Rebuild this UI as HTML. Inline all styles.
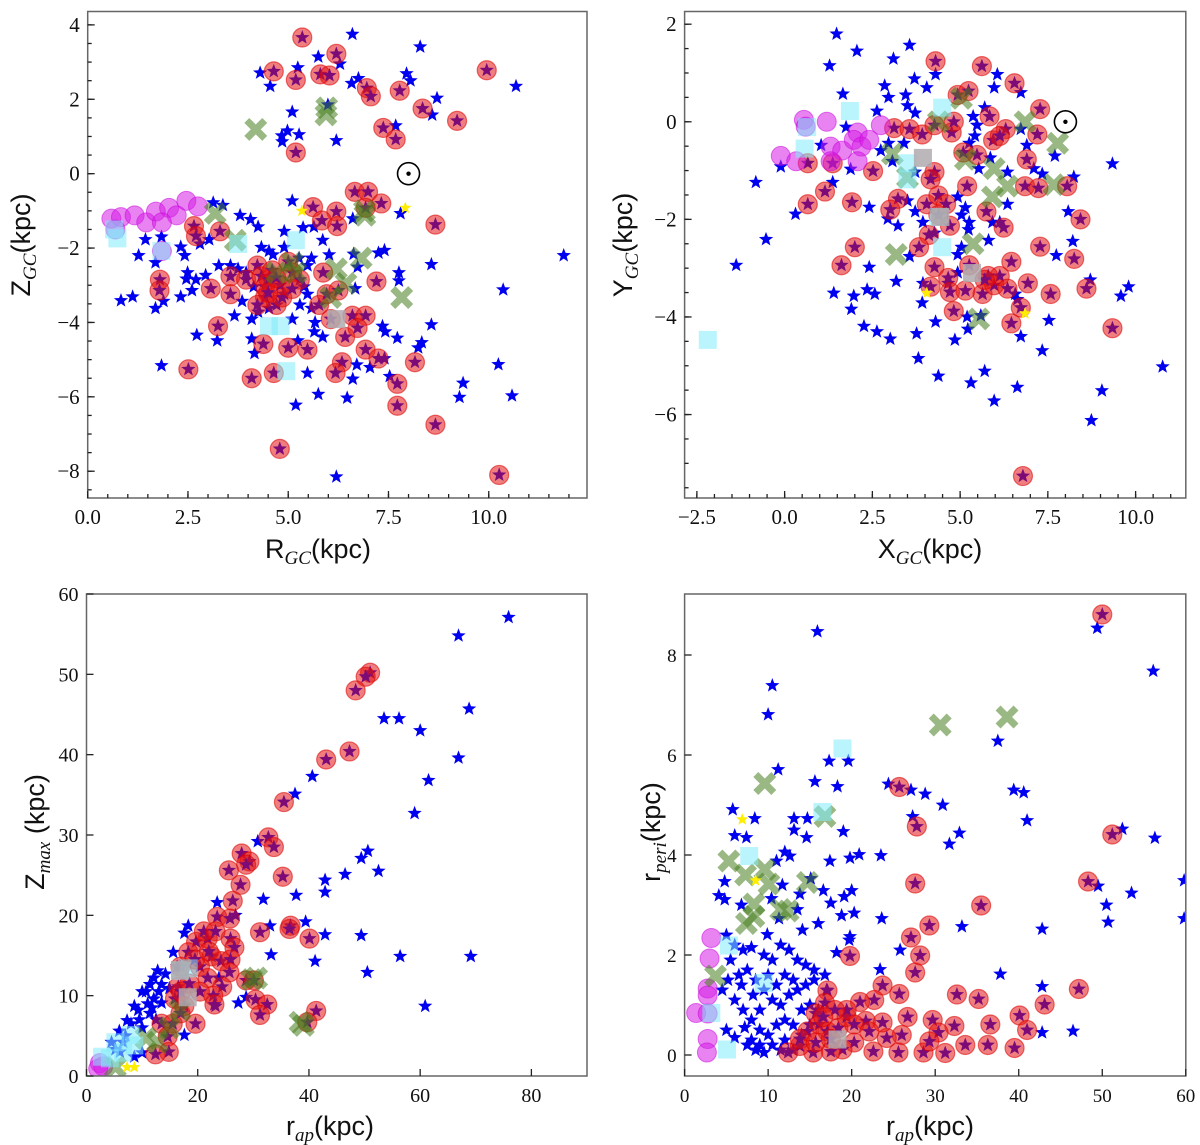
<!DOCTYPE html>
<html><head><meta charset="utf-8"><style>
html,body{margin:0;padding:0;background:#fff;}
svg{display:block;}
</style></head><body>
<svg id="fig" width="1200" height="1145" viewBox="0 0 1200 1145" xmlns="http://www.w3.org/2000/svg"></svg>
<script>
// ---------- Panel 1 data: R_GC vs Z_GC ----------
const p1Blue=[[6.6,3.75],[8.29,3.41],[5.75,3.14],[5.24,2.85],[4.3,2.71],[4.55,2.35],[6.29,2.95],[6.75,2.56],[6.58,2.43],[7.95,2.69],[8.05,2.5],[8.71,2.03],[10.68,2.35],[5.99,1.85],[5.1,1.66],[8.59,1.58],[4.84,1.02],[4.98,1.15],[5.27,1.05],[4.85,0.86],[6.2,0.89],[7.68,1.29],[5.1,-0.73],[3.13,-0.78],[3.37,-0.85],[7.8,-1.07],[6.61,-1.21],[3.8,-1.12],[4.06,-1.23],[4.25,-1.43],[5.37,-1.45],[5.64,-1.43],[4.9,-1.55],[3.03,-1.77],[2.8,-1.89],[2.32,-1.97],[1.44,-1.77],[1.84,-1.7],[1.27,-2.2],[1.69,-2.39],[2.42,-2.2],[2.49,-2.66],[2.46,-2.83],[2.7,-2.85],[2.6,-3.14],[2.32,-3.31],[2.94,-2.73],[0.83,-3.41],[1.12,-3.31],[1.69,-3.62],[1.89,-3.43],[3.66,-3.82],[2.72,-4.34],[3.23,-4.49],[4.09,-4.44],[4.16,-4.83],[4.09,-3.91],[4.25,-3.72],[1.84,-5.16],[5.86,-4.39],[5.65,-4.25],[5.24,-4.49],[5.48,-5.36],[5.75,-5.93],[5.19,-6.22],[6.47,-6.03],[6.61,-5.52],[6.71,-5.14],[7.04,-5.21],[7.35,-4.1],[7.42,-4.25],[7.72,-4.42],[8.57,-4.06],[8.24,-4.68],[8.33,-4.54],[7.53,-5.45],[9.36,-5.63],[9.27,-6.01],[10.24,-5.13],[10.58,-5.97],[10.36,-3.12],[11.87,-2.2],[8.57,-2.44],[7.76,-2.66],[7.76,-2.88],[7.4,-2.06],[7.25,-2.13],[6.73,-2.51],[6.63,-2.16],[6.02,-2.18],[5.86,-1.79],[6.67,-3.09],[6.2,-8.15],[7.4,-4.97],[4.33,-1.98],[4.52,-2.08],[4.62,-2.18],[4.9,-1.98],[5.27,-2.27],[5.48,-2.47],[5.58,-2.27],[3.75,-2.56],[3.95,-2.66],[3.56,-2.47],[3.27,-2.47],[4.14,-3.04],[5.39,-3.04],[5.48,-3.24],[5.29,-3.53],[5.58,-3.62],[3.85,-3.43],[5.1,-3.91],[5.67,-4.0],[4.52,-3.62],[4.9,-3.24]];
const p1Red=[[5.35,3.66],[6.2,3.22],[4.64,2.75],[5.19,2.52],[5.8,2.67],[6.03,2.64],[6.96,2.3],[7.06,2.08],[7.78,2.23],[9.95,2.78],[8.35,1.75],[9.21,1.42],[7.37,1.23],[7.68,0.92],[5.19,0.57],[6.66,-0.49],[6.99,-0.49],[7.32,-0.8],[6.93,-0.92],[5.62,-0.9],[6.2,-1.02],[5.84,-1.26],[6.22,-1.41],[8.67,-1.37],[2.65,-1.41],[2.7,-1.68],[3.3,-1.55],[1.8,-2.85],[1.79,-3.14],[3.07,-3.09],[3.56,-2.76],[3.56,-3.24],[3.95,-2.85],[4.23,-2.47],[4.33,-2.76],[4.42,-3.04],[4.52,-2.85],[4.42,-3.33],[4.23,-3.53],[4.71,-3.53],[4.85,-3.33],[5.1,-2.66],[5.0,-2.37],[5.29,-2.85],[5.87,-2.66],[5.77,-3.53],[5.96,-3.24],[6.25,-3.14],[6.06,-3.91],[6.6,-3.82],[6.93,-3.82],[6.42,-4.39],[6.73,-4.15],[7.2,-2.9],[3.25,-4.1],[4.38,-4.58],[5.0,-4.68],[5.48,-4.73],[6.93,-4.73],[7.25,-4.97],[6.34,-5.07],[6.18,-5.36],[4.64,-5.36],[4.09,-5.5],[2.51,-5.26],[8.16,-5.07],[7.72,-5.65],[7.72,-6.24],[8.67,-6.75],[4.79,-7.4],[10.26,-8.1],[4.6,-2.6],[4.8,-3.0],[4.5,-3.2],[5.1,-3.1],[4.7,-2.8]];
const p1Magenta=[[0.59,-1.21],[0.83,-1.17],[1.17,-1.12],[1.46,-1.31],[1.7,-1.02],[2.03,-0.92],[2.22,-1.12],[2.46,-0.73],[2.75,-0.88],[1.85,-1.31],[0.69,-1.5],[1.85,-2.08]];
const p1Green=[[4.19,1.19],[5.96,1.77],[5.94,1.58],[3.18,-1.07],[3.68,-1.79],[6.91,-1.12],[6.82,-2.27],[6.2,-2.56],[6.44,-2.95],[7.83,-3.33],[4.71,-2.66],[5.19,-2.66],[6.06,-3.33],[5.1,-2.4],[6.9,-1.0]];
const p1Cyan=[[0.66,-1.5],[0.74,-1.74],[1.84,-2.08],[3.75,-1.89],[5.19,-1.79],[4.52,-4.1],[4.81,-4.1],[4.95,-5.31]];
const p1Gray=[[6.2,-3.91]];
const p1Yellow=[[5.34,-1.0],[7.92,-0.92]];
const p1TickX=[0,2.5,5,7.5,10];
const p1TickXLabels=["0.0","2.5","5.0","7.5","10.0"];
const p1TickY=[-8,-6,-4,-2,0,2,4];
const p1TickYLabels=["−8","−6","−4","−2","0","2","4"];

// ---------- Panel 2 data: X_GC vs Y_GC ----------
const p2Blue=[[1.48,1.8],[2.06,1.45],[3.56,1.57],[1.28,1.15],[3.1,1.29],[4.3,0.97],[3.7,0.88],[2.85,0.74],[1.66,0.57],[2.96,0.5],[3.45,0.55],[4.05,0.7],[6.06,0.97],[5.97,0.7],[6.73,0.6],[2.63,0.22],[3.5,0.33],[3.72,0.18],[5.37,0.11],[1.75,-0.11],[1.04,-0.48],[-0.11,-0.92],[-0.82,-1.24],[0.31,-1.89],[-0.53,-2.41],[-1.38,-2.94],[1.37,-1.24],[1.88,-0.97],[2.41,-1.75],[2.94,-1.99],[3.23,-2.13],[2.41,-2.98],[1.4,-3.51],[1.97,-3.57],[2.35,-3.44],[2.57,-3.53],[1.9,-3.84],[2.26,-4.19],[2.63,-4.3],[3.01,-4.45],[3.18,-3.27],[3.56,-2.76],[3.92,-3.71],[3.76,-4.34],[3.81,-4.85],[4.3,-4.1],[4.38,-5.21],[4.85,-4.47],[5.22,-4.25],[5.31,-5.35],[5.7,-5.11],[5.97,-5.72],[6.63,-5.44],[6.73,-4.4],[7.34,-4.69],[7.53,-4.07],[7.74,-2.74],[8.21,-2.45],[8.08,-1.84],[8.24,-1.13],[9.34,-0.86],[8.71,-3.24],[9.58,-3.57],[9.8,-3.38],[9.04,-5.51],[8.74,-6.12],[10.77,-5.02],[7.7,-0.7],[6.9,-0.48],[6.73,-0.15],[7.1,-0.96],[7.34,-1.07],[5.53,-0.96],[5.81,-2.43],[5.04,-1.91],[5.26,-2.06],[5.24,-2.21],[5.04,-2.57],[4.93,-2.72],[6.63,-3.64],[6.57,-3.53],[5.42,-0.29],[5.26,-0.44],[5.86,-0.74],[3.07,-0.81],[2.74,-0.59],[2.96,-0.44],[3.4,-0.44],[3.72,-1.03],[3.5,-1.62],[3.72,-1.84],[3.94,-2.06],[4.93,-1.54],[5.15,-1.76],[6.13,-2.06],[6.35,-1.69],[4.93,-3.09],[4.66,-3.31],[5.59,-3.97],[5.2,-4.0],[4.27,-2.28],[3.94,-3.31],[5.92,-2.06],[5.7,0.29],[5.48,-0.07],[6.35,-1.03]];
const p2Red=[[4.3,1.24],[5.62,1.14],[6.55,0.79],[4.93,0.55],[5.24,0.63],[7.28,0.26],[5.84,0.11],[7.2,-0.26],[5.94,-0.38],[6.3,-0.15],[6.13,-0.29],[6.9,-0.77],[6.85,-1.32],[7.23,-1.36],[8.05,-1.32],[8.43,-2.0],[5.75,-1.84],[6.24,-2.17],[7.28,-2.56],[8.25,-2.81],[8.6,-3.42],[7.58,-3.53],[6.93,-3.31],[6.46,-2.87],[6.46,-4.13],[6.73,-3.81],[9.34,-4.23],[6.79,-7.26],[0.66,-1.69],[1.15,-1.43],[1.92,-1.65],[2.0,-2.57],[1.62,-2.94],[2.52,-1.01],[0.66,-0.85],[1.37,-0.85],[3.12,-0.13],[3.56,-0.15],[3.92,-0.26],[4.27,-0.07],[4.76,-0.22],[4.82,0],[5.09,-0.63],[5.48,-0.68],[4.27,-1.03],[4.16,-1.18],[5.2,-1.32],[3.23,-1.58],[3.01,-1.8],[4.05,-1.69],[4.38,-1.51],[4.6,-1.69],[4.38,-1.91],[4.71,-2.13],[4.11,-2.32],[3.83,-2.57],[4.27,-2.98],[4.66,-3.2],[4.16,-3.38],[4.71,-3.49],[5.15,-3.46],[5.64,-3.53],[5.97,-3.35],[6.13,-3.16],[5.8,-3.16],[5.26,-2.94],[4.82,-3.88],[5.7,-3.24],[6.35,-3.42]];
const p2Magenta=[[0.55,0.04],[1.2,0],[-0.11,-0.7],[0.33,-0.81],[1.31,-0.51],[1.64,-0.59],[2.08,-0.22],[1.97,-0.37],[2.19,-0.51],[2.74,-0.07],[2.41,-0.37],[2.08,-0.81],[1.31,-0.81],[0.6,-0.1]];
const p2Green=[[3.07,-0.66],[6.85,0],[7.78,-0.44],[5.97,-0.96],[6.35,-1.32],[7.67,-1.29],[5.92,-1.54],[5.37,-2.5],[3.18,-2.72],[5.53,-4.04],[5.15,-0.77],[5.04,0.48],[4.38,0],[3.5,-1.14]];
const p2Cyan=[[1.86,0.22],[0.64,-0.11],[0.57,-0.55],[3.5,-0.85],[3.5,-1.18],[4.49,0.29],[4.49,-2.57],[-2.19,-4.47],[4.38,-1.95]];
const p2Gray=[[4.44,-1.95],[5.34,-3.1],[3.94,-0.74]];
const p2Yellow=[[4.05,-3.51],[6.85,-3.93]];
const p2TickX=[-2.5,0,2.5,5,7.5,10];
const p2TickXLabels=["−2.5","0.0","2.5","5.0","7.5","10.0"];
const p2TickY=[-6,-4,-2,0,2];
const p2TickYLabels=["−6","−4","−2","0","2"];

// ---------- Panel 3 data: r_ap vs Z_max ----------
const p3Blue=[[75.9,57.1],[66.9,54.8],[68.8,45.7],[53.5,44.5],[56.2,44.5],[60.0,43.0],[66.9,39.6],[61.5,36.8],[59.0,32.7],[40.6,37.3],[37.5,35.1],[30.8,29.2],[50.6,28.0],[49.4,27.1],[52.5,25.5],[46.5,25.1],[42.9,24.4],[42.9,22.9],[37.7,22.5],[31.8,22.0],[39.4,19.2],[42.9,17.6],[49.4,17.5],[33.0,18.7],[33.2,15.1],[41.1,14.3],[56.4,14.9],[69.1,14.9],[50.5,12.9],[60.9,8.7],[27.3,9.1],[28.7,9.8],[23.5,21.6],[26.8,20.0],[18.3,18.7],[17.6,17.8],[15.6,15.4],[12.8,13.1],[12.1,12.2],[11.4,11.4],[10.0,10.5],[8.6,8.7],[7.3,6.9],[5.9,5.6],[4.5,4.2],[10.7,10.5],[12.1,9.6],[13.5,11.4],[9.3,8.2],[11.4,7.8],[8.0,6.5],[10.0,6.0],[13.5,9.1],[14.9,10.9],[14.2,12.7],[16.3,13.6],[17.6,5.1],[23.2,8.7],[23.8,12.2],[8.6,2.4],[10.0,2.9],[6.6,4.2],[5.2,3.3],[11.0,9.0],[9.5,7.0],[7.0,5.0],[12.5,7.0],[6.0,3.0],[13.0,10.5],[11.8,8.5]];
const p3Red=[[51,50.2],[50.2,49.7],[48.4,48.0],[47.3,40.4],[43.1,39.4],[35.5,34.1],[32.7,29.7],[33.7,28.5],[27.9,27.7],[29.3,26.7],[28.7,26.3],[25.6,25.6],[27.7,23.8],[35.3,24.8],[26.3,21.8],[23.5,19.8],[25.8,19.6],[36.7,18.7],[36.5,18.3],[31.2,17.9],[40.1,17.1],[25.9,17.1],[26.6,16.0],[19.7,16.7],[21.8,17.1],[21.1,18.0],[23.2,18.0],[22.5,14.9],[24.2,14.3],[25.9,14.5],[25.7,12.9],[18.3,15.4],[16.9,13.6],[20.4,13.6],[21.8,12.2],[24.4,11.1],[28.7,11.9],[30.1,11.9],[22.8,10.0],[23.0,8.9],[16.5,11.1],[15.9,9.6],[17.6,8.7],[20.4,10.5],[30.4,9.5],[32.5,8.9],[31.2,7.6],[41.3,8.1],[39.7,6.7],[19.6,6.5],[13.5,6.5],[14.6,4.9],[14.8,3.0],[12.4,2.7],[15.5,6.5],[16.9,7.8],[17.0,10.5],[18.5,11.5],[19.5,14.5],[22.0,15.5]];
const p3Magenta=[[2.4,1.6],[2.1,0.9],[3.0,1.2]];
const p3Green=[[30.6,12.2],[29.7,12.0],[38.4,6.7],[39.0,6.3],[16.8,8.2],[14.9,6.0],[10.7,4.7],[12.8,4.2],[5.2,1.1]];
const p3Cyan=[[16.9,13.1],[18.4,13.4],[2.8,2.4],[5.2,4.2],[7.9,5.1],[8.6,3.8],[6.6,2.9],[4.2,2.2]];
const p3Gray=[[18.2,9.8],[16.8,13.2]];
const p3Yellow=[[8.6,1.1],[7.3,1.1]];
const p3TickX=[0,20,40,60,80];
const p3TickXLabels=["0","20","40","60","80"];
const p3TickY=[0,10,20,30,40,50,60];
const p3TickYLabels=["0","10","20","30","40","50","60"];

// ---------- Panel 4 data: r_ap vs r_peri ----------
const p4Blue=[[15.9,8.47],[49.4,8.54],[56.1,7.68],[10.5,7.39],[10.0,6.81],[37.5,6.28],[11.2,5.71],[17.3,5.88],[19.6,5.88],[15.6,5.47],[18.3,5.37],[24.4,5.42],[27.1,5.3],[28.8,5.22],[39.4,5.3],[40.6,5.25],[30.9,5.0],[41.0,4.69],[27.3,4.77],[5.76,4.91],[8.4,4.73],[13.1,4.73],[14.7,4.73],[6.0,4.39],[7.4,4.35],[13.1,4.5],[14.6,4.35],[19.0,4.47],[32.9,4.44],[31.7,4.22],[52.4,4.52],[56.3,4.34],[12.0,4.06],[12.6,3.98],[11.0,3.88],[19.8,3.94],[20.9,4.01],[23.5,3.99],[17.4,3.88],[4.8,3.47],[4.1,3.19],[4.8,3.11],[11.7,3.4],[15.1,3.53],[13.8,3.22],[16.6,3.29],[20.0,3.29],[19.1,3.17],[17.5,3.04],[10.4,3.13],[49.5,3.38],[53.5,3.24],[50.5,3.0],[59.8,2.73],[50.7,2.66],[42.8,2.52],[33.2,2.57],[23.6,2.73],[20.3,2.84],[18.8,2.79],[16.0,2.63],[14.1,2.5],[11.3,2.73],[13.5,2.91],[6.8,3.0],[9.9,2.41],[19.8,2.37],[19.7,2.3],[25.8,2.1],[18.2,2.05],[37.8,1.62],[23.4,1.71],[42.8,1.37],[42.8,0.45],[46.5,0.48],[59.8,3.49],[5,2.4],[6,2.2],[7,2.1],[8,2.15],[9.5,2.0],[10.5,1.9],[11.5,2.2],[12.5,2.1],[13.5,1.9],[14.5,1.8],[15.5,1.7],[16.8,1.6],[5.5,1.9],[6.5,1.6],[7.5,1.7],[8.5,1.5],[9.5,1.3],[10.5,1.1],[11.5,1.0],[12.5,1.2],[13.5,1.3],[14.5,1.4],[15.5,1.5],[6,1.1],[7,0.9],[8,0.7],[9,0.5],[10,0.4],[11,0.6],[12,0.7],[13,0.6],[14,0.9],[15,1.0],[5,0.5],[6,0.35],[7.5,0.2],[8.5,0.1],[9.5,0.05],[10.5,0.2],[12,0.3],[13,0.1],[14,0.4],[4.5,1.3],[5.2,1.5],[6.8,1.4],[8.2,1.2],[9,0.9],[10,1.6],[11,1.4],[12,1.6],[13,1.5],[8,0.3],[9,0.2],[7.2,0.55],[11.5,0.1],[15,0.6],[16,0.9],[17,1.3]];
const p4Red=[[50,8.81],[51.2,4.41],[48.3,3.47],[35.5,2.99],[27.6,3.43],[27.8,4.57],[25.7,5.36],[29.3,2.59],[27.1,2.35],[28.2,1.99],[27.6,1.65],[19.8,1.98],[47.2,1.32],[43.1,1.01],[32.6,1.21],[35.2,1.12],[40.1,0.79],[41.0,0.5],[36.6,0.61],[32.3,0.58],[29.7,0.7],[30.4,0.45],[33.6,0.2],[36.3,0.2],[39.5,0.14],[31.2,0.04],[28.6,0.05],[29.3,0.27],[23.7,1.39],[25.7,1.22],[26.7,0.76],[26.0,0.4],[25.6,0.05],[22.6,0.07],[24.2,0.34],[23.7,0.65],[22.7,1.1],[21.0,1.06],[21.7,0.68],[20.3,0.25],[18.9,0.11],[17.5,0.07],[15.4,0.05],[13.8,0.18],[12.4,0.05],[17.1,1.29],[16.8,1.04],[15.7,0.83],[16.1,0.61],[17.1,0.47],[14.7,0.47],[13.8,0.32],[15.7,0.25],[17.5,0.32],[18.4,0.54],[19.4,0.76],[20.3,0.61],[19.4,0.9],[22.1,0.47],[18.0,0.9],[16.6,0.76]];
const p4Magenta=[[3.2,2.34],[2.99,1.93],[2.76,1.33],[2.76,1.19],[1.38,0.84],[2.76,0.83],[2.76,0.32],[2.67,0.05]];
const p4Green=[[30.6,6.6],[38.6,6.76],[9.6,5.43],[16.8,4.77],[5.3,3.88],[7.3,3.6],[9.6,3.71],[10.1,3.42],[14.7,3.45],[8.3,3.02],[8.3,2.77],[7.4,2.63],[11.5,2.91],[12.4,2.88],[3.7,1.58]];
const p4Cyan=[[18.9,6.13],[16.5,4.86],[7.74,3.98],[5.3,2.19],[9.45,1.44],[3.2,0.84],[5.07,0.11]];
const p4Gray=[[18.3,0.31]];
const p4Yellow=[[6.9,4.71],[8.5,3.49]];
const p4TickX=[0,10,20,30,40,50,60];
const p4TickXLabels=["0","10","20","30","40","50","60"];
const p4TickY=[0,2,4,6,8];
const p4TickYLabels=["0","2","4","6","8"];

// ---------- Rendering ----------
const NS="http://www.w3.org/2000/svg";
const svg=document.getElementById('fig');
function mk(tag,attrs,parent){const e=document.createElementNS(NS,tag);for(const k in attrs)e.setAttribute(k,attrs[k]);(parent||svg).appendChild(e);return e;}

const panels=[
 {key:'rgc-zgc',L:87.7,R:587,T:11.5,B:498,xmin:0,xmax:12.45,ymin:-8.72,ymax:4.36,xminor:0.5,yminor:0.5,
  data:{blue:p1Blue,red:p1Red,mag:p1Magenta,green:p1Green,cyan:p1Cyan,gray:p1Gray,yellow:p1Yellow},
  tx:p1TickX,txl:p1TickXLabels,ty:p1TickY,tyl:p1TickYLabels,sun:true,fs:21,
  xt:['R','GC','(kpc)'],xtX:318,xtY:558,yt:['Z','GC','(kpc)'],ytX:30,ytY:245},
 {key:'xgc-ygc',L:684.6,R:1185.8,T:11.5,B:498,xmin:-2.85,xmax:11.43,ymin:-7.71,ymax:2.26,xminor:0.5,yminor:0.5,
  data:{blue:p2Blue,red:p2Red,mag:p2Magenta,green:p2Green,cyan:p2Cyan,gray:p2Gray,yellow:p2Yellow},
  tx:p2TickX,txl:p2TickXLabels,ty:p2TickY,tyl:p2TickYLabels,sun:true,fs:21,
  xt:['X','GC','(kpc)'],xtX:930,xtY:558,yt:['Y','GC','(kpc)'],ytX:632,ytY:245},
 {key:'rap-zmax',L:86.5,R:587,T:594,B:1076,xmin:0,xmax:90,ymin:0,ymax:60,xminor:0,yminor:0,
  data:{blue:p3Blue,red:p3Red,mag:p3Magenta,green:p3Green,cyan:p3Cyan,gray:p3Gray,yellow:p3Yellow},
  tx:p3TickX,txl:p3TickXLabels,ty:p3TickY,tyl:p3TickYLabels,sun:false,fs:20,
  xt:['r','ap','(kpc)'],xtX:330,xtY:1135,yt:['Z','max',' (kpc)'],ytX:44,ytY:832},
 {key:'rap-rperi',L:684.6,R:1185.8,T:594,B:1076,xmin:0,xmax:60,ymin:-0.42,ymax:9.22,xminor:0,yminor:0,
  data:{blue:p4Blue,red:p4Red,mag:p4Magenta,green:p4Green,cyan:p4Cyan,gray:p4Gray,yellow:p4Yellow},
  tx:p4TickX,txl:p4TickXLabels,ty:p4TickY,tyl:p4TickYLabels,sun:false,fs:19,
  xt:['r','ap','(kpc)'],xtX:930,xtY:1135,yt:['r','peri','(kpc)'],ytX:660,ytY:832}
];

function starPath(cx,cy,ro){const ri=ro*0.42;let d='';for(let i=0;i<10;i++){const r=i%2?ri:ro;const a=-Math.PI/2+i*Math.PI/5;d+=(i?'L':'M')+(cx+r*Math.cos(a)).toFixed(1)+' '+(cy+r*Math.sin(a)).toFixed(1);}return d+'Z';}

panels.forEach(p=>{
  const g=mk('g',{});
  
  
  const sx=v=>p.L+(v-p.xmin)/(p.xmax-p.xmin)*(p.R-p.L);
  const sy=v=>p.B-(v-p.ymin)/(p.ymax-p.ymin)*(p.B-p.T);
  const clipId='clip-'+p.key;
  const cp=mk('clipPath',{id:clipId},g);mk('rect',{x:p.L,y:p.T,width:p.R-p.L,height:p.B-p.T},cp);
  const plot=mk('g',{'clip-path':'url(#'+clipId+')'},g);
  
  
  const D=p.data;
  // blue stars
  const gb=mk('g',{},plot);
  D.blue.forEach(d=>{const e=mk('path',{d:starPath(sx(d[0]),sy(d[1]),7.5),fill:'#0000f0'},gb);
    
    });
  // red circles (with inner star)
  const gr=mk('g',{},plot);
  D.red.forEach(d=>{mk('path',{d:starPath(sx(d[0]),sy(d[1]),7.5),fill:'#0000f0'},gr);
    const e=mk('circle',{cx:sx(d[0]),cy:sy(d[1]),r:9.5,fill:'rgba(228,20,20,0.55)',stroke:'rgba(220,0,0,0.55)','stroke-width':1.2},gr);
    
    });
  // magenta
  const gm=mk('g',{},plot);
  D.mag.forEach(d=>{const e=mk('circle',{cx:sx(d[0]),cy:sy(d[1]),r:9.5,fill:'rgba(214,30,230,0.55)',stroke:'rgba(200,0,220,0.5)','stroke-width':1},gm);
    
    });
  // green X
  const gg=mk('g',{},plot);
  D.green.forEach(d=>{const x=sx(d[0]),y=sy(d[1]),s=6.5;
    const e=mk('path',{d:`M${x-s} ${y-s}L${x+s} ${y+s}M${x+s} ${y-s}L${x-s} ${y+s}`,stroke:'rgba(70,125,30,0.55)','stroke-width':7,'stroke-linecap':'square',fill:'none'},gg);
    
    });
  // cyan squares
  const gc=mk('g',{},plot);
  D.cyan.forEach(d=>{const e=mk('rect',{x:sx(d[0])-9,y:sy(d[1])-9,width:18,height:18,fill:'rgba(130,235,250,0.55)'},gc);
    
    });
  // gray squares
  const gq=mk('g',{},plot);
  D.gray.forEach(d=>{const e=mk('rect',{x:sx(d[0])-9,y:sy(d[1])-9,width:18,height:18,fill:'rgba(175,170,175,0.85)'},gq);
    
    });
  // yellow stars
  const gy=mk('g',{},plot);
  D.yellow.forEach(d=>{const e=mk('path',{d:starPath(sx(d[0]),sy(d[1]),6.5),fill:'#ffee00'},gy);
    
    });
  if(p.sun){const sg=mk('g',{},g);
    
    
    mk('circle',{cx:sx(8),cy:sy(0),r:11,fill:'none',stroke:'#000','stroke-width':1.6},sg);
    mk('circle',{cx:sx(8),cy:sy(0),r:2.2,fill:'#000'},sg);}
  // frame
  const fr=mk('rect',{x:p.L,y:p.T,width:p.R-p.L,height:p.B-p.T,fill:'none',stroke:'#666','stroke-width':1.5},g);
  
  
  // ticks
  const tg=mk('g',{stroke:'#222','stroke-width':1.3},g);
  
  
  p.tx.forEach(v=>mk('line',{x1:sx(v),x2:sx(v),y1:p.B,y2:p.B-7},tg));
  p.ty.forEach(v=>mk('line',{x1:p.L,x2:p.L+7,y1:sy(v),y2:sy(v)},tg));
  if(p.xminor){for(let v=Math.ceil(p.xmin/p.xminor)*p.xminor;v<=p.xmax;v+=p.xminor)mk('line',{x1:sx(v),x2:sx(v),y1:p.B,y2:p.B-4},tg);}
  if(p.yminor){for(let v=Math.ceil(p.ymin/p.yminor)*p.yminor;v<=p.ymax;v+=p.yminor)mk('line',{x1:p.L,x2:p.L+4,y1:sy(v),y2:sy(v)},tg);}
  // tick labels
  p.tx.forEach((v,i)=>{const t=mk('text',{x:sx(v),y:p.B+26,'text-anchor':'middle','font-family':'"Liberation Serif",serif','font-size':p.fs,fill:'#111'},g);
    t.textContent=p.txl[i];
    
    });
  p.ty.forEach((v,i)=>{const t=mk('text',{x:p.L-8,y:sy(v)+7,'text-anchor':'end','font-family':'"Liberation Serif",serif','font-size':p.fs,fill:'#111'},g);
    t.textContent=p.tyl[i];
    
    });
  // axis titles
  function title(parts,x,y,rot,name){
    const t=mk('text',{x:x,y:y,'text-anchor':'middle','font-family':'"Liberation Sans",sans-serif','font-size':27,fill:'#111',transform:rot?`rotate(-90 ${x} ${y})`:''},g);
    
    
    const a=mk('tspan',{},t);a.textContent=parts[0];
    const b=mk('tspan',{'font-family':'"Liberation Serif",serif','font-style':'italic','font-size':19,dy:6},t);b.textContent=parts[1];
    const c=mk('tspan',{dy:-6},t);c.textContent=parts[2];
  }
  title(p.xt,p.xtX,p.xtY,false,'x-axis-title');
  title(p.yt,p.ytX,p.ytY,true,'y-axis-title');
});
</script>
</body></html>
